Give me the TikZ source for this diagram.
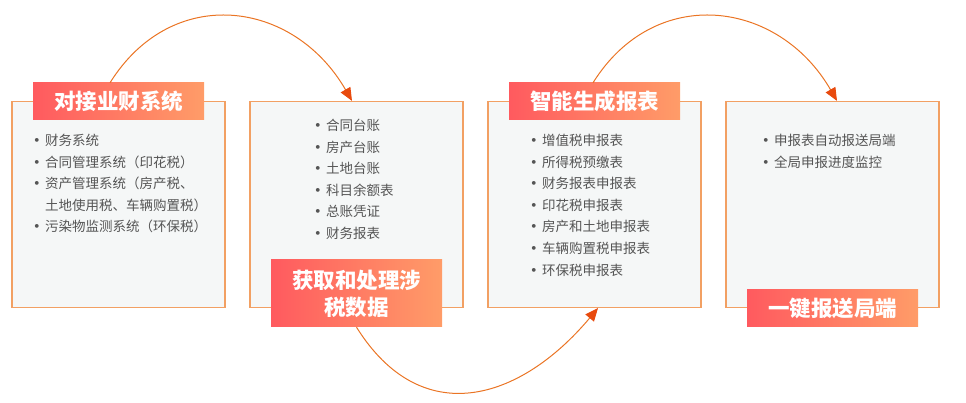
\documentclass[tikz,border=0pt]{standalone}
\usepackage{fontspec}
\setmainfont{Noto Sans CJK SC}
\usetikzlibrary{arrows.meta}

\definecolor{edgeorange}{HTML}{F2A063}
\definecolor{panelgray}{HTML}{F5F7F7}
\definecolor{headred}{HTML}{FF5A5F}
\definecolor{headorange}{HTML}{FF9C68}
\definecolor{flowline}{HTML}{EA7424}
\definecolor{flowtip}{HTML}{E84A0E}
\definecolor{itemgray}{HTML}{555555}

\newcommand{\itm}[1]{\makebox[15pt][l]{\bfseries\textbullet}#1}

\begin{document}
\begin{tikzpicture}[x=1pt,y=1pt,
    panel/.style={draw=edgeorange,line width=1.2pt,fill=panelgray,
        minimum width=213pt,minimum height=206pt,inner sep=0pt},
    title/.style={left color=headred,right color=headorange,text=white,
        minimum width=171pt,minimum height=37pt,inner sep=0pt,align=center,
        font=\fontsize{21.5}{27}\selectfont\bfseries},
    items/.style={anchor=north west,inner sep=0pt,align=left,text=itemgray,
        font=\fontsize{13.5}{21.6}\selectfont},
    flow/.style={draw=flowline,line width=1pt,
        -{Triangle[length=13pt,width=11pt,color=flowtip]}}]
    \useasboundingbox (0,0) rectangle (966,403);

    % Draw panels
    \node[panel] (p1) at (118.5,198.5) {};
    \node[panel] (p2) at (356.5,198.5) {};
    \node[panel] (p3) at (594.5,198.5) {};
    \node[panel] (p4) at (832.5,198.5) {};

    % Lists
    \node[items] (l1) at (30,269) {\itm{财务系统}\\ \itm{合同管理系统（印花税）}\\
        \itm{资产管理系统（房产税、}\\ \hspace*{15pt}土地使用税、车辆购置税）\\
        \itm{污染物监测系统（环保税）}};
    \node[items] (l2) at (311,284) {\itm{合同台账}\\ \itm{房产台账}\\ \itm{土地台账}\\
        \itm{科目余额表}\\ \itm{总账凭证}\\ \itm{财务报表}};
    \node[items] (l3) at (527,269) {\itm{增值税申报表}\\ \itm{所得税预缴表}\\
        \itm{财务报表申报表}\\ \itm{印花税申报表}\\ \itm{房产和土地申报表}\\
        \itm{车辆购置税申报表}\\ \itm{环保税申报表}};
    \node[items] (l4) at (759,269) {\itm{申报表自动报送局端}\\ \itm{全局申报进度监控}};

    % Titles
    \node[title] (t1) at (118.5,301.5) {对接业财系统};
    \node[title,minimum height=67pt] (t2) at (356.5,109.5) {获取和处理涉\\税数据};
    \node[title] (t3) at (594.5,301.5) {智能生成报表};
    \node[title] (t4) at (832.5,94.5) {一键报送局端};

    % Arrows
    \draw[flow] ([xshift=-8.5pt]t1.north) .. controls +(58:117) and +(120:117) .. ([xshift=-4.5pt]p2.north);
    \draw[flow] (t2.south) .. controls +(-58:122) and +(-130:122) .. ([xshift=3.5pt]p3.south);
    \draw[flow] ([xshift=-1.5pt]t3.north) .. controls +(58:117) and +(120:117) .. ([xshift=4.5pt]p4.north);

\end{tikzpicture}
\end{document}
